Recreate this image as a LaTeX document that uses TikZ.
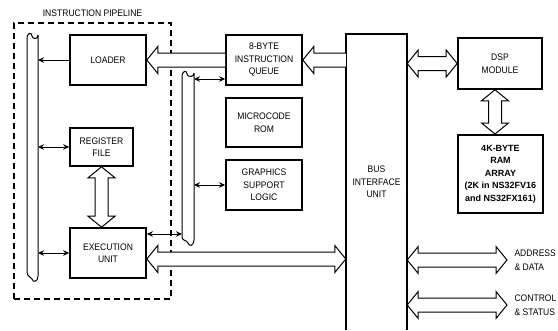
\documentclass[tikz,border=0pt]{standalone}
\usepackage{fontspec}
\setmainfont{Liberation Sans}[FakeStretch=0.9]
\newfontfamily\ramfont{Liberation Sans}
\usetikzlibrary{arrows.meta, calc, positioning}

% hollow block arrows (horizontal ones keep the y of the first point)
\newcommand{\hollowdbl}[2]{%
  \draw[hollow] let \p1=(#1), \p2=(#2) in
    (\x1,\y1) -- (\x1+11pt,\y1+13.5pt) -- (\x1+11pt,\y1+7pt) -- (\x2-11pt,\y1+7pt)
    -- (\x2-11pt,\y1+13.5pt) -- (\x2,\y1) -- (\x2-11pt,\y1-13.5pt) -- (\x2-11pt,\y1-7pt)
    -- (\x1+11pt,\y1-7pt) -- (\x1+11pt,\y1-13.5pt) -- cycle;}
\newcommand{\hollowtip}[2]{%
  \draw[hollow] let \p1=(#1), \p2=(#2) in
    (\x2,\y1+7pt) -- (\x1+11pt,\y1+7pt) -- (\x1+11pt,\y1+13.5pt) -- (\x1,\y1)
    -- (\x1+11pt,\y1-13.5pt) -- (\x1+11pt,\y1-7pt) -- (\x2,\y1-7pt);}
\newcommand{\hollowvdbl}[2]{%
  \draw[hollow] let \p1=(#1), \p2=(#2) in
    (\x1,\y1) -- (\x1+13.5pt,\y1-11pt) -- (\x1+6.5pt,\y1-11pt) -- (\x1+6.5pt,\y2+11pt)
    -- (\x1+13.5pt,\y2+11pt) -- (\x1,\y2) -- (\x1-13.5pt,\y2+11pt) -- (\x1-6.5pt,\y2+11pt)
    -- (\x1-6.5pt,\y1-11pt) -- (\x1-13.5pt,\y1-11pt) -- cycle;}

\begin{document}
\begin{tikzpicture}[
    x=1pt, y=-1pt,
    font=\fontsize{9.5}{12.5}\selectfont,
    box/.style={draw, line width=1.6pt, minimum width=76pt, minimum height=50pt,
                align=center, inner sep=2pt},
    pipebox/.style={draw, dash pattern=on 6pt off 4pt, line width=1.3pt},
    bus/.style={line width=1pt},
    arr/.style={-{Stealth[length=6pt,width=5.5pt]}, line width=1pt},
    darr/.style={{Stealth[length=6pt,width=5.5pt]}-{Stealth[length=6pt,width=5.5pt]}, line width=1pt},
    hollow/.style={draw, fill=white, line width=1pt},
    annot/.style={align=left, anchor=west, font=\fontsize{9.5}{13.5}\selectfont},
  ]
  \useasboundingbox (0,0) rectangle (558,330);

  \node[pipebox, minimum width=157pt, minimum height=276pt] (pipeline) at (92.5,161) {};
  \node[above=2pt of pipeline.north] (title) {INSTRUCTION PIPELINE};

  \node[box] (loader) at (108,60) {LOADER};
  \node[box, minimum width=63pt, minimum height=38pt] (regfile) at (101.5,147) {REGISTER\\FILE};
  \node[box] (exec) at (108,253) {EXECUTION\\UNIT};

  \node[box] (queue) at (264,60) {8-BYTE\\INSTRUCTION\\QUEUE};
  \node[box, minimum height=49pt] (ucode) at (264,122.5) {MICROCODE\\ROM};
  \node[box] (gfx) at (264,185) {GRAPHICS\\SUPPORT\\LOGIC};

  \node[minimum width=61pt, minimum height=296pt, align=center] (biu) at (376.5,182) {BUS\\INTERFACE\\UNIT};
  \draw[line width=1.6pt] (biu.south west) -- (biu.north west) -- (biu.north east) -- (biu.south east);

  \node[box, minimum width=84pt, minimum height=51pt] (dsp) at (500,63.5) {DSP\\MODULE};
  \node[box, minimum width=85pt, minimum height=78pt, line width=2pt,
        font=\ramfont\fontsize{9}{12.5}\selectfont\bfseries] (ram) at (500.5,174)
        {4K-BYTE\\RAM\\ARRAY\\(2K in NS32FV16\\and NS32FX161)};

  % buses
  \coordinate (pipebus) at (38,0);
  \coordinate (sidebusL) at (182,0);
  \coordinate (sidebusR) at (194,0);
  \draw[bus] (38,35) -- (38,276) .. controls (38,282) and (33,283) .. (32,279)
    .. controls (31,276) and (27,277) .. (27,272) -- (27,39)
    .. controls (27,32) and (32,32) .. (32,36) .. controls (32,39) and (38,40) .. (38,35);
  \draw[bus] (194,73) -- (194,240) .. controls (194,246) and (189,247) .. (188,243)
    .. controls (187,240) and (182,241) .. (182,237) -- (182,77)
    .. controls (182,70) and (187,70) .. (187,74) .. controls (187,77) and (194,78) .. (194,73);

  \coordinate (addr) at (507,260);
  \coordinate (ctrl) at (507,305);

  % small arrows
  \draw[arr] (loader.west) -- (loader.west -| pipebus);
  \draw[darr] (regfile.west) -- (regfile.west -| pipebus);
  \draw[darr] (exec.west) -- (exec.west -| pipebus);
  \draw[darr] ([yshift=19pt]exec.east) -- ([yshift=19pt]exec.east -| sidebusL);
  \draw[darr] ([yshift=-19pt]queue.west) -- ([yshift=-19pt]queue.west -| sidebusR);
  \draw[darr] (gfx.west) -- (gfx.west -| sidebusR);

  % block arrows
  \hollowtip{loader.east}{queue.west}
  \hollowtip{queue.east}{biu.west}
  \hollowdbl{[yshift=-6pt]exec.east}{[yshift=-6pt]exec.east -| biu.west}
  \hollowvdbl{regfile.south}{regfile.south |- exec.north}
  \hollowdbl{biu.east |- dsp.west}{dsp.west}
  \hollowvdbl{[xshift=-5pt]dsp.south}{[xshift=-5pt]dsp.south |- ram.north}
  \hollowdbl{biu.east |- addr}{addr}
  \hollowdbl{biu.east |- ctrl}{ctrl}

  \node[annot] (addrlbl) at (511,260) {ADDRESS\\\& DATA};
  \node[annot] (ctrllbl) at (511,305) {CONTROL\\\& STATUS};
\end{tikzpicture}
\end{document}
